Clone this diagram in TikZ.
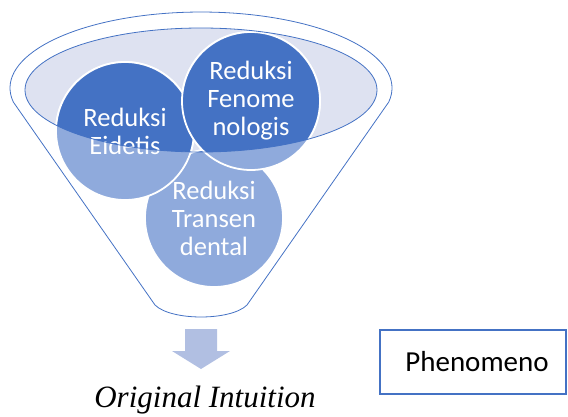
\documentclass[tikz,border=0pt]{standalone}
\usepackage{fontspec}
\newfontfamily\calibri{Carlito}
\newfontfamily\timesfont{Liberation Serif}
\usepackage{tikz}
\usetikzlibrary{positioning}
\definecolor{funnelblue}{HTML}{4472C4}
\definecolor{lightblue}{HTML}{8FAADC}
\definecolor{lavender}{HTML}{DEE2F1}
\definecolor{arrowblue}{HTML}{B1BFE2}

\begin{document}
\begin{tikzpicture}[x=1pt,y=1pt,
    reduksi/.style={circle,draw=white,line width=1.8pt,fill=lightblue,minimum size=138pt,inner sep=0pt},
    reduksitext/.style={text=white,align=center,inner sep=0pt,font=\calibri\fontsize{26.5}{28}\selectfont},
    outline/.style={draw=funnelblue,line width=0.8pt}]
    \useasboundingbox (0,0) rectangle (568,416);
    % funnel
    \draw[outline] (155,111) -- (13.3,314) arc[start angle=190.6, end angle=-10.6, x radius=191, y radius=76]
        -- (247,111) .. controls (231,95) and (171,95) .. (155,111) -- cycle;
    \fill[lavender] (201,326) ellipse[x radius=176, y radius=62];
    % circles
    \node[reduksi] (tra) at (214,198) {};
    \node[reduksi] (eid) at (125,285) {};
    \node[reduksi] (fen) at (251,315) {};
    \begin{scope}
        \clip (201,326) ellipse[x radius=176, y radius=62];
        \foreach \c in {tra,eid,fen}
            \node[reduksi,fill=funnelblue] (\c-dark) at (\c) {};
    \end{scope}
    \node[reduksitext] (tra-text) at (tra) {Reduksi\\Transen\\dental};
    \node[reduksitext] (eid-text) at (eid) {Reduksi\\Eidetis};
    \node[reduksitext] (fen-text) at (fen) {Reduksi\\Fenome\\nologis};
    \draw[outline] (201,326) ellipse[x radius=176, y radius=62];
    % arrow
    \fill[arrowblue] (185,87) -- (217,87) -- (217,65) -- (230,65) -- (201,47) -- (172,65) -- (185,65) -- cycle;
    \node[anchor=base,inner sep=0pt,font=\timesfont\itshape\fontsize{31}{36}\selectfont] (intuisi) at (205,9) {Original Intuition};
    \node[draw=funnelblue,line width=2pt,minimum width=186pt,minimum height=64pt,font=\calibri\fontsize{29}{34}\selectfont] (phen) at (473,54) {\hspace*{8pt}Phenomeno};
\end{tikzpicture}
\end{document}
